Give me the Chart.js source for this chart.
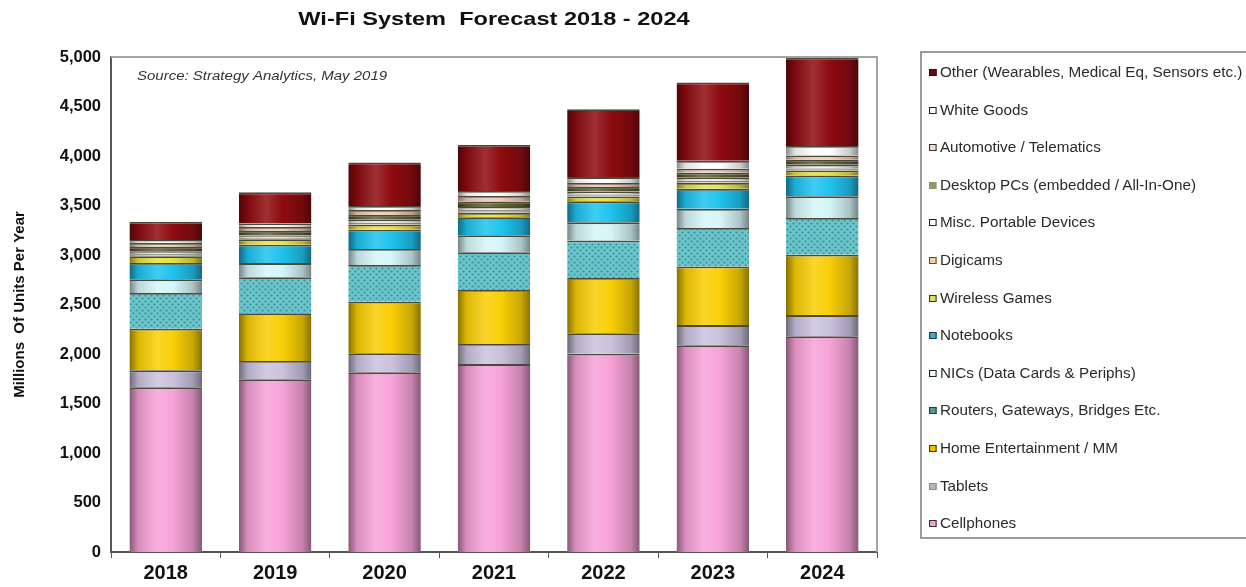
<!DOCTYPE html>
<html>
<head>
<meta charset="utf-8">
<script src="https://cdn.jsdelivr.net/npm/chart.js@4"></script>
<style>
  html, body { margin: 0; padding: 0; background: #fff; overflow: hidden; }
  #wrap { position: relative; width: 1246px; height: 587px; }
  #legend {
    position: absolute; left: 920px; top: 51px; width: 340px; height: 488px;
    border: 2px solid #9c9c9c; box-sizing: border-box;
    font-family: "Liberation Sans", Arial, sans-serif; font-size: 14px; color: #2a2a2a;
  }
  .item { position: absolute; left: 7px; height: 16px; line-height: 16px; white-space: nowrap;
          transform: scaleX(1.09); transform-origin: left center; }
  .mark { display: inline-block; width: 5px; height: 5px; border: 1.5px solid #222; margin-right: 3px; vertical-align: 1px; }
</style>
</head>
<body>
<div id="wrap">
  <canvas id="chart" width="1246" height="587"></canvas>
  <div id="legend"></div>
</div>
<script>
// DATA (millions of units per year)
const years = ["2018", "2019", "2020", "2021", "2022", "2023", "2024"];
const cellphones    = [1665, 1745, 1815, 1898, 2003, 2088, 2180];
const tablets       = [170, 185, 192, 203, 207, 204, 213];
const homeEnt       = [421, 481, 521, 546, 557, 592, 609];
const routers       = [361, 365, 372, 382, 380, 389, 372];
const nics          = [137, 142, 160, 170, 183, 193, 219];
const notebooks     = [165, 185, 195, 182, 212, 202, 210];
const wirelessGames = [68, 55, 50, 45, 50, 61, 50];
const digicams      = [20, 15, 20, 25, 20, 22, 22];
const miscPortable  = [30, 25, 30, 35, 30, 35, 36];
const desktopPCs    = [45, 45, 50, 55, 45, 45, 50];
const automotive    = [39, 40, 50, 55, 40, 40, 45];
const whiteGoods    = [30, 35, 40, 50, 60, 80, 95];
const other         = [185, 315, 440, 465, 686, 792, 889];
const yTicks = [0, 500, 1000, 1500, 2000, 2500, 3000, 3500, 4000, 4500, 5000];

const FONT = "'Liberation Sans', Arial, sans-serif";

// series, bottom of the stack first
const series = [
  { label: "Cellphones", data: cellphones, color: "#f7a2d8", mark: "#f4a0d4", edge: "#333" },
  { label: "Tablets", data: tablets, color: "#cbc2de", mark: "#b8b8b8", edge: "#888" },
  { label: "Home Entertainment / MM", data: homeEnt, color: "#f9cf06", mark: "#f2c400", edge: "#333" },
  { label: "Routers, Gateways, Bridges Etc.", data: routers, color: "#6cc5cb", mark: "#4f9f98", edge: "#333", dots: true },
  { label: "NICs (Data Cards & Periphs)", data: nics, color: "#d6f5f7", mark: "#e8fbfb", edge: "#222" },
  { label: "Notebooks", data: notebooks, color: "#1fc3ee", mark: "#27b6d6", edge: "#333" },
  { label: "Wireless Games", data: wirelessGames, color: "#e4e43e", mark: "#e0e060", edge: "#333" },
  { label: "Digicams", data: digicams, color: "#ecc9a2", mark: "#f3d3a8", edge: "#6a4a20" },
  { label: "Misc. Portable Devices", data: miscPortable, color: "#eeeeee", mark: "#ffffff", edge: "#222" },
  { label: "Desktop PCs (embedded / All-In-One)", data: desktopPCs, color: "#5f6236", mark: "#8e9a6c", edge: null },
  { label: "Automotive / Telematics", data: automotive, color: "#f0c9b3", mark: "#f7dccb", edge: "#333" },
  { label: "White Goods", data: whiteGoods, color: "#ffffff", mark: "#ffffff", edge: "#222" },
  { label: "Other (Wearables, Medical Eq, Sensors etc.)", data: other, color: "#8e0b10", mark: "#6a0a12", edge: "#3a0a0a" }
];

function mix(hex, t, to) {
  const n = parseInt(hex.slice(1), 16);
  const r = (n >> 16) & 255, g = (n >> 8) & 255, b = n & 255;
  const m = (c) => Math.round(c + (to - c) * t);
  return "rgb(" + m(r) + "," + m(g) + "," + m(b) + ")";
}

// dotted fill for the routers segment
function dotPattern(base) {
  const c = document.createElement("canvas");
  c.width = 6; c.height = 6;
  const p = c.getContext("2d");
  p.fillStyle = base; p.fillRect(0, 0, 6, 6);
  p.fillStyle = "#3b8f98";
  p.beginPath(); p.arc(1.5, 1.5, 1.1, 0, Math.PI * 2); p.fill();
  p.beginPath(); p.arc(4.5, 4.5, 1.1, 0, Math.PI * 2); p.fill();
  return p.createPattern(c, "repeat");
}

// cylinder-ish shading across each bar
function barFill(context, s) {
  const chart = context.chart;
  if (s.dots) return dotPattern(s.color);
  if (context.type !== "data" || !chart.chartArea) return s.color;
  const cx = chart.scales.x.getPixelForValue(context.dataIndex);
  const half = 36;
  const g = chart.ctx.createLinearGradient(cx - half, 0, cx + half, 0);
  g.addColorStop(0, mix(s.color, 0.45, 0));
  g.addColorStop(0.12, mix(s.color, 0.12, 0));
  g.addColorStop(0.38, mix(s.color, 0.15, 255));
  g.addColorStop(0.6, s.color);
  g.addColorStop(0.88, mix(s.color, 0.2, 0));
  g.addColorStop(1, mix(s.color, 0.45, 0));
  return g;
}

const datasets = series.map((s) => ({
  label: s.label,
  data: s.data,
  backgroundColor: (ctx) => barFill(ctx, s),
  borderColor: "rgba(40,40,25,0.85)",
  borderWidth: { top: 1.8, bottom: 0, left: 0, right: 0 },
  borderSkipped: false,
  barPercentage: 0.663,
  categoryPercentage: 1.0
}));

// wide-set text, as in the picture
function wideText(ctx, text, x, y, sx) {
  ctx.save();
  ctx.translate(x, y);
  ctx.scale(sx, 1);
  ctx.fillText(text, 0, 0);
  ctx.restore();
}

// TITLE, SOURCE NOTE AND PLOT FRAME
const decor = {
  id: "decor",
  afterDraw(chart) {
    const { ctx, chartArea: a } = chart;
    ctx.save();
    ctx.strokeStyle = "#a4a4a4";
    ctx.lineWidth = 2;
    ctx.beginPath();
    ctx.moveTo(a.left, a.top);
    ctx.lineTo(a.right, a.top);
    ctx.lineTo(a.right, a.bottom);
    ctx.stroke();

    ctx.fillStyle = "#111";
    ctx.textAlign = "center";
    ctx.textBaseline = "middle";
    ctx.font = "bold 19px " + FONT;
    wideText(ctx, "Wi-Fi System  Forecast 2018 - 2024", (a.left + a.right) / 2, 20, 1.24);

    ctx.textAlign = "left";
    ctx.font = "italic 12.5px " + FONT;
    ctx.fillStyle = "#333";
    wideText(ctx, "Source: Strategy Analytics, May 2019", 137, 77, 1.2);
    ctx.restore();
  }
};

new Chart(document.getElementById("chart"), {
  type: "bar",
  data: { labels: years, datasets: datasets },
  plugins: [decor],
  options: {
    responsive: false,
    animation: false,
    layout: { padding: { top: 57, left: 0, right: 369, bottom: 0 } },
    plugins: { legend: { display: false }, tooltip: { enabled: false }, title: { display: false } },
    scales: {
      x: {
        stacked: true,
        grid: { display: true, drawOnChartArea: false, drawTicks: true, tickLength: 6, color: "#555", offset: true },
        border: { display: true, color: "#555", width: 2 },
        ticks: { color: "#111", font: { family: FONT, size: 20, weight: "bold" }, padding: 3 },
        afterFit: (scale) => { scale.height = 35; }
      },
      y: {
        stacked: true,
        min: 0,
        max: 5000,
        afterBuildTicks: (scale) => { scale.ticks = yTicks.map((v) => ({ value: v })); },
        grid: { display: false, drawTicks: false },
        border: { display: true, color: "#555", width: 2 },
        ticks: { color: "#111", font: { family: FONT, size: 16.5, weight: "bold" }, padding: 10 },
        title: {
          display: true,
          text: "Millions  Of Units Per Year",
          color: "#111",
          font: { family: FONT, size: 15, weight: "bold" },
          padding: { top: 11, bottom: 0 }
        },
        afterFit: (scale) => { scale.width = 111; }
      }
    }
  }
});

// LEGEND (top of the stack first, as in the picture)
const legend = document.getElementById("legend");
series.slice().reverse().forEach((s, i) => {
  const row = document.createElement("div");
  row.className = "item";
  row.style.top = (11 + i * 37.6) + "px";
  const m = document.createElement("span");
  m.className = "mark";
  m.style.background = s.mark;
  if (!s.edge) { m.style.border = "none"; m.style.width = "7px"; m.style.height = "7px"; }
  else m.style.borderColor = s.edge;
  row.appendChild(m);
  row.appendChild(document.createTextNode(s.label));
  legend.appendChild(row);
});
</script>
</body>
</html>
